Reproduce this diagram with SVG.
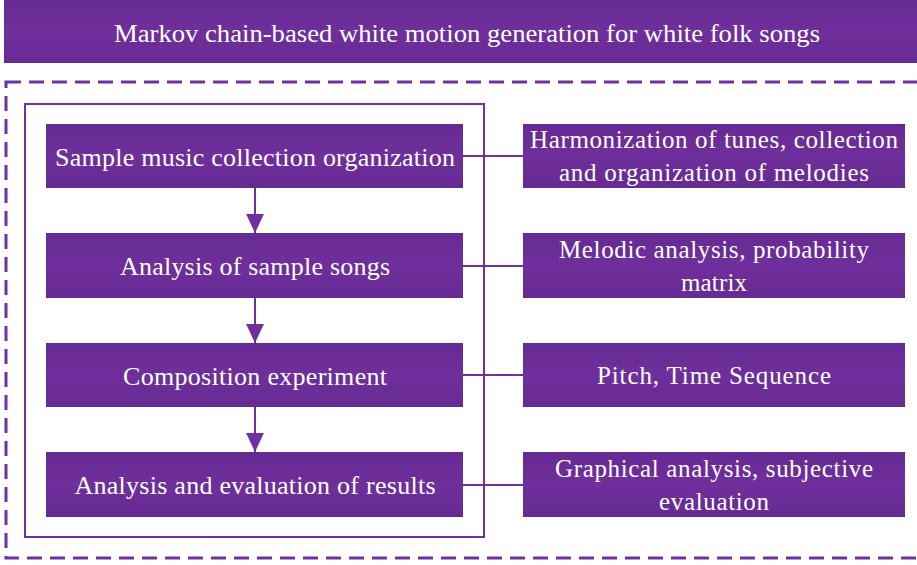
<svg xmlns="http://www.w3.org/2000/svg" width="917" height="565" viewBox="0 0 917 565">
  <style>
    .box { fill: url(#boxFill); }
    .lbl { font-family: 'Liberation Serif', Tinos, 'Times New Roman', Times, serif; fill: #ffffff; text-anchor: middle; }
    .ttl { font-size: 25px; }
    .stp { font-size: 26px; }
    .det { font-size: 25px; }
    .frame { fill: none; stroke: #7030a0; stroke-width: 2; }
    .dash { fill: none; stroke: #7030a0; stroke-width: 3; stroke-dasharray: 15 8; }
    .link { fill: none; stroke: #7030a0; stroke-width: 2; }
  </style>
  <defs>
    <linearGradient id="boxFill" x1="0" y1="0" x2="0" y2="1">
      <stop offset="0" stop-color="#662a93"/>
      <stop offset="0.5" stop-color="#6f2f9c"/>
      <stop offset="1" stop-color="#662a93"/>
    </linearGradient>
    <marker id="arrow" viewBox="0 0 10 10" refX="10" refY="5" markerWidth="19" markerHeight="19" markerUnits="userSpaceOnUse" orient="auto">
      <path d="M0,0.3 L10,5 L0,9.7 Z" fill="#7030a0"/>
    </marker>
  </defs>

  <!-- title banner -->
  <g id="title">
    <rect class="box" x="4" y="0" width="916" height="63"/>
    <text class="lbl ttl" x="467" y="42" textLength="706" lengthAdjust="spacingAndGlyphs">Markov chain-based white motion generation for white folk songs</text>
  </g>

  <!-- dashed outer frame and solid inner frame -->
  <rect class="dash" x="6" y="82" width="930" height="476"/>
  <rect class="frame" x="25" y="104" width="459" height="433"/>

  <!-- process steps -->
  <g id="step1">
    <rect class="box" x="46" y="124" width="417" height="64"/>
    <text class="lbl stp" x="255" y="166" textLength="400" lengthAdjust="spacing">Sample music collection organization</text>
  </g>
  <g id="step2">
    <rect class="box" x="46" y="233" width="417" height="65"/>
    <text class="lbl stp" x="255" y="275" textLength="270" lengthAdjust="spacing">Analysis of sample songs</text>
  </g>
  <g id="step3">
    <rect class="box" x="46" y="343" width="417" height="64"/>
    <text class="lbl stp" x="255" y="385" textLength="264" lengthAdjust="spacing">Composition experiment</text>
  </g>
  <g id="step4">
    <rect class="box" x="46" y="452" width="417" height="65"/>
    <text class="lbl stp" x="255" y="494" textLength="361" lengthAdjust="spacing">Analysis and evaluation of results</text>
  </g>

  <!-- step details -->
  <g id="detail1">
    <rect class="box" x="523" y="124" width="382" height="64"/>
    <text class="lbl det" x="714" y="148" textLength="368" lengthAdjust="spacing">Harmonization of tunes, collection</text>
    <text class="lbl det" x="714" y="181" textLength="310" lengthAdjust="spacing">and organization of melodies</text>
  </g>
  <g id="detail2">
    <rect class="box" x="523" y="233" width="382" height="65"/>
    <text class="lbl det" x="714" y="258" textLength="310" lengthAdjust="spacing">Melodic analysis, probability</text>
    <text class="lbl det" x="714" y="291" textLength="66" lengthAdjust="spacing">matrix</text>
  </g>
  <g id="detail3">
    <rect class="box" x="523" y="343" width="382" height="64"/>
    <text class="lbl det" x="714" y="384" textLength="234" lengthAdjust="spacing">Pitch, Time Sequence</text>
  </g>
  <g id="detail4">
    <rect class="box" x="523" y="452" width="382" height="65"/>
    <text class="lbl det" x="714" y="477" textLength="318" lengthAdjust="spacing">Graphical analysis, subjective</text>
    <text class="lbl det" x="714" y="510" textLength="110" lengthAdjust="spacing">evaluation</text>
  </g>

  <!-- connectors -->
  <g id="connectors">
    <line class="link" x1="255" y1="188" x2="255" y2="233" marker-end="url(#arrow)"/>
    <line class="link" x1="255" y1="298" x2="255" y2="343" marker-end="url(#arrow)"/>
    <line class="link" x1="255" y1="407" x2="255" y2="452" marker-end="url(#arrow)"/>
    <line class="link" x1="463" y1="156" x2="523" y2="156"/>
    <line class="link" x1="463" y1="266" x2="523" y2="266"/>
    <line class="link" x1="463" y1="375" x2="523" y2="375"/>
    <line class="link" x1="463" y1="485" x2="523" y2="485"/>
  </g>
</svg>
